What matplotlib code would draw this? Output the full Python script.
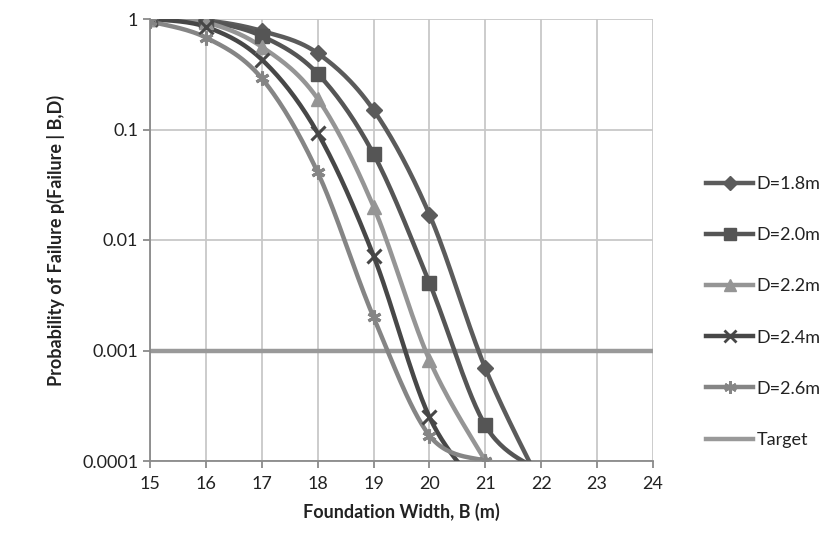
import numpy as np
import matplotlib
matplotlib.use("Agg")
import matplotlib.pyplot as plt
from matplotlib.lines import Line2D

# foundation width B (m) and failure probabilities per embedment depth D
B = [15, 16, 17, 18, 19, 20, 21, 22]
p_18 = [1.0, 0.97, 0.78, 0.49, 0.15, 0.017, 0.00069, 0.00006]
p_20 = [1.0, 0.95, 0.70, 0.32, 0.060, 0.0041, 0.00021, 0.00008]
p_22 = [1.0, 0.93, 0.56, 0.19, 0.020, 0.00082, 0.0001]
p_24 = [1.0, 0.85, 0.43, 0.093, 0.0072, 0.00025, 0.00005]
p_26 = [0.95, 0.68, 0.29, 0.041, 0.0020, 0.00017, 0.0001]
target = 0.001
target_B = [15, 24]

SERIES = [
    ("D=1.8m", p_18, "#5b5b5b", "D", 8),
    ("D=2.0m", p_20, "#555555", "s", 10),
    ("D=2.2m", p_22, "#959595", "^", 10),
    ("D=2.4m", p_24, "#474747", "x", 10),
    ("D=2.6m", p_26, "#858585", (6, 2, 0), 10),
]
TARGET_C = "#999999"

FONT = ["Lato", "DejaVu Sans"]
plt.rcParams["font.family"] = FONT


def excel_smooth(x, y, n=30):
    """Excel-style smoothed line: cubic Bezier through points in (x, log y)."""
    x = np.asarray(x, float)
    ly = np.log10(np.asarray(y, float))
    P = np.column_stack([x, ly])
    out = []
    for i in range(len(P) - 1):
        p0 = P[i - 1] if i > 0 else P[i]
        p3n = P[i + 2] if i + 2 < len(P) else P[i + 1]
        c1 = P[i] + (P[i + 1] - p0) / 6.0
        c2 = P[i + 1] - (p3n - P[i]) / 6.0
        t = np.linspace(0, 1, n)[:, None]
        seg = ((1 - t) ** 3 * P[i] + 3 * (1 - t) ** 2 * t * c1
               + 3 * (1 - t) * t ** 2 * c2 + t ** 3 * P[i + 1])
        out.append(seg if i == 0 else seg[1:])
    seg = np.vstack(out)
    return seg[:, 0], 10 ** seg[:, 1]


fig = plt.figure(figsize=(8.38, 5.45), dpi=100)
ax = fig.add_axes([150 / 838, 1 - 461 / 545, 503 / 838, 442 / 545])

ax.plot(target_B, [target, target], color=TARGET_C, lw=3.2, zorder=2)
for name, p, c, m, ms in SERIES:
    xs, ys = excel_smooth(B[:len(p)], p)
    ax.plot(xs, ys, color=c, lw=3.2, zorder=3)
    mew = 2.2 if m in ("x", (6, 2, 0)) else 1
    ax.plot(B[:len(p)], p, ls="none", marker=m, ms=ms, color=c, mew=mew, zorder=4)

ax.set_yscale("log")
ax.set_xlim(15, 24)
ax.set_ylim(1e-4, 1)
ax.set_xticks(range(15, 25))
ax.set_yticks([1e-4, 1e-3, 1e-2, 1e-1, 1])
ax.set_yticklabels(["0.0001", "0.001", "0.01", "0.1", "1"])
ax.minorticks_off()
ax.grid(True, color="#c8c8c8", lw=1.3, zorder=0)
for s in ("top", "right"):
    ax.spines[s].set_visible(False)
for s in ("left", "bottom"):
    ax.spines[s].set_color("#8a8a8a")
    ax.spines[s].set_linewidth(1.3)
ax.tick_params(axis="both", colors="#8a8a8a", length=5, width=1.3,
               labelsize=13, labelcolor="#222222")
ax.tick_params(axis="x", pad=6)
ax.set_xlabel("Foundation Width, B (m)", fontsize=13, fontweight="bold",
              color="#222222", labelpad=8)
ax.set_ylabel("Probability of Failure p(Failure | B,D)", fontsize=13,
              fontweight="bold", color="#222222", labelpad=12)

handles = [Line2D([], [], color=c, lw=3.2, marker=m, ms=ms * 0.9,
                  mew=2 if m in ("x", (6, 2, 0)) else 1)
           for _, _, c, m, ms in SERIES]
handles.append(Line2D([], [], color=TARGET_C, lw=3.2))
labels = [s[0] for s in SERIES] + ["Target"]
fig.legend(handles, labels, loc="center left", bbox_to_anchor=(697 / 838, 1 - 312 / 545),
           frameon=False, fontsize=13, handlelength=2.6, handletextpad=0.2,
           labelspacing=1.95, borderpad=0, labelcolor="#222222")

fig.savefig("out.png", dpi=100)
